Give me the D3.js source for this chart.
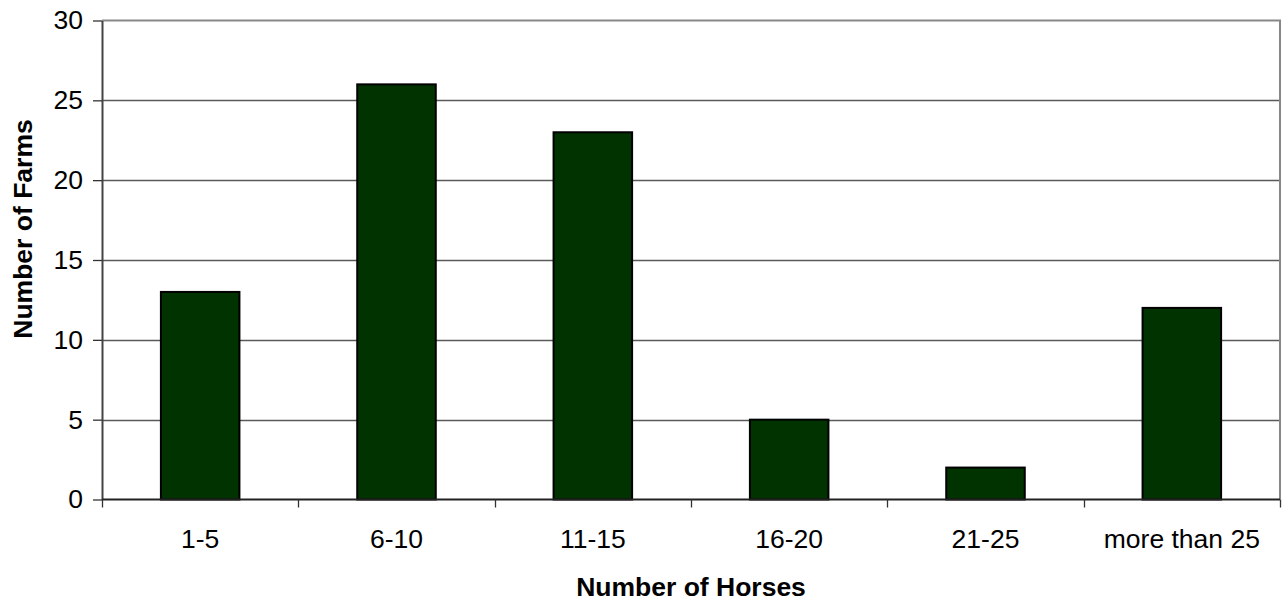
<!DOCTYPE html>
<html>
<head>
<meta charset="utf-8">
<script src="https://cdn.jsdelivr.net/npm/d3@7"></script>
<style>
  html, body { margin: 0; padding: 0; background: #fff; }
  svg { display: block; }
  text { font-family: "Liberation Sans", Arial, sans-serif; fill: #000; }
</style>
</head>
<body>
<svg id="chart" width="1286" height="603"></svg>
<script>
const categories = ["1-5", "6-10", "11-15", "16-20", "21-25", "more than 25"];
const farms = [13, 26, 23, 5, 2, 12];
const yTicks = [0, 5, 10, 15, 20, 25, 30];
const xTitle = "Number of Horses";
const yTitle = "Number of Farms";

const W = 1286, H = 603;
const margin = { left: 102, right: 6, top: 20.5, bottom: 103.5 };
const svg = d3.select("#chart");

const x = d3.scaleBand()
  .domain(categories)
  .range([margin.left, W - margin.right])
  .paddingInner(0.6)
  .paddingOuter(0.3);

const y = d3.scaleLinear()
  .domain([0, 30])
  .range([H - margin.bottom, margin.top]);

const fs = 26.5;

// gridlines
svg.append("g")
  .selectAll("line")
  .data(yTicks.filter(d => d > 0 && d < 30))
  .join("line")
  .attr("x1", margin.left).attr("x2", W - margin.right)
  .attr("y1", d => Math.round(y(d)) + 0.5).attr("y2", d => Math.round(y(d)) + 0.5)
  .attr("stroke", "#5a5a5a").attr("stroke-width", 1.3);

// plot border top & right (gray)
svg.append("path")
  .attr("d", `M${margin.left},${y(30)}H${W - margin.right}V${y(0)}`)
  .attr("fill", "none").attr("stroke", "#888").attr("stroke-width", 2);

// bars
svg.append("g")
  .selectAll("rect")
  .data(categories.map((c, i) => ({ c, v: farms[i] })))
  .join("rect")
  .attr("x", d => x(d.c))
  .attr("y", d => y(d.v))
  .attr("width", x.bandwidth())
  .attr("height", d => y(0) - y(d.v))
  .attr("fill", "#003300")
  .attr("stroke", "#000")
  .attr("stroke-width", 2);

// Y axis
const yAxis = d3.axisLeft(y).tickValues(yTicks).tickSize(9).tickPadding(10).tickSizeOuter(0);
const gy = svg.append("g").attr("transform", `translate(${margin.left},0)`).call(yAxis);
gy.select(".domain").attr("stroke", "#444").attr("stroke-width", 2);
gy.selectAll(".tick line").attr("stroke", "#333").attr("stroke-width", 1.3);
gy.selectAll(".tick text").attr("font-size", fs).attr("font-family", "Liberation Sans, Arial, sans-serif").attr("fill", "#000");

// X axis with boundary ticks between categories
const step = x.step();
const boundaries = d3.range(categories.length + 1).map(i => margin.left + i * step);
const gx = svg.append("g");
gx.append("line")
  .attr("x1", margin.left).attr("x2", W - margin.right)
  .attr("y1", y(0)).attr("y2", y(0))
  .attr("stroke", "#222").attr("stroke-width", 2);
gx.selectAll("line.tk")
  .data(boundaries)
  .join("line").attr("class", "tk")
  .attr("x1", d => Math.round(d) + 0.5).attr("x2", d => Math.round(d) + 0.5)
  .attr("y1", y(0)).attr("y2", y(0) + 8)
  .attr("stroke", "#333").attr("stroke-width", 1.3);
gx.selectAll("text")
  .data(categories)
  .join("text")
  .attr("x", d => x(d) + x.bandwidth() / 2)
  .attr("y", 548)
  .attr("text-anchor", "middle")
  .attr("font-size", fs)
  .text(d => d);

// Axis titles
svg.append("text")
  .attr("x", (margin.left + W - margin.right) / 2)
  .attr("y", 596)
  .attr("text-anchor", "middle")
  .attr("font-size", fs)
  .attr("font-weight", "bold")
  .text(xTitle);

svg.append("text")
  .attr("transform", `translate(32,229) rotate(-90)`)
  .attr("text-anchor", "middle")
  .attr("font-size", fs)
  .attr("font-weight", "bold")
  .text(yTitle);
</script>
</body>
</html>
